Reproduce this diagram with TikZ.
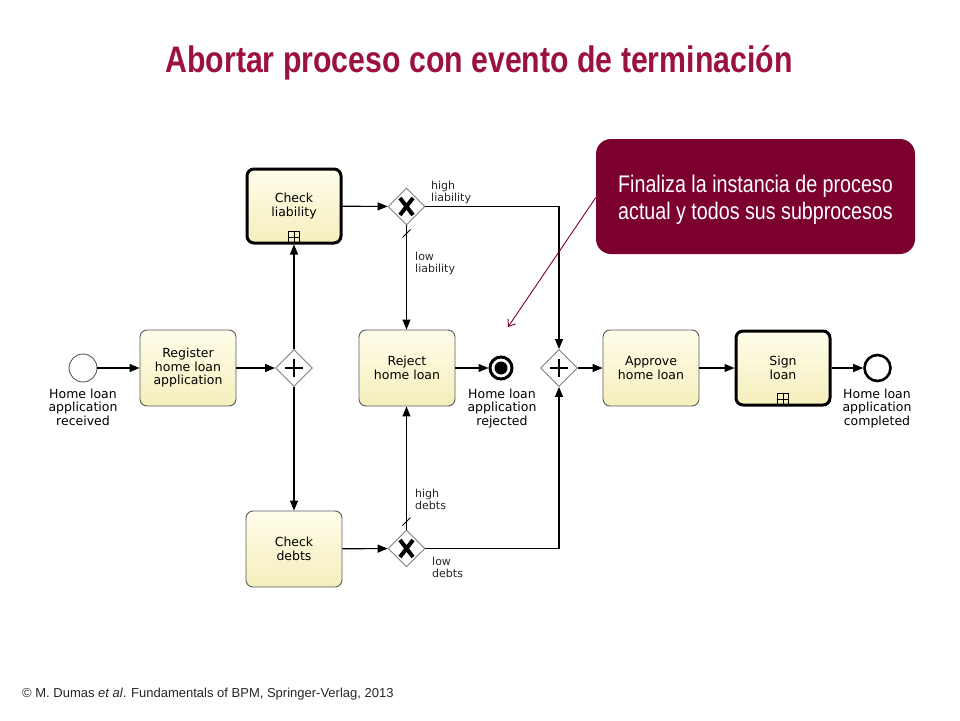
\documentclass[tikz,border=0pt]{standalone}
\usepackage{fontspec}
\usetikzlibrary{arrows.meta,shapes.geometric}
\setmainfont{Liberation Sans}
\newfontfamily\bpmFont{DejaVu Sans}
\newfontfamily\bpmNarrow[FakeStretch=0.82]{Liberation Sans}
\definecolor{bpmTitleRed}{RGB}{155,18,62}
\definecolor{bpmNoteRed}{RGB}{124,0,46}
\definecolor{bpmTaskTop}{RGB}{255,253,234}
\definecolor{bpmTaskBottom}{RGB}{245,238,188}
\definecolor{bpmLine}{RGB}{90,90,90}
\newcommand{\bpmXorMark}[1]{\draw[line width=4pt] ([shift={(-6.5,-8.5)}]#1.center) -- ([shift={(6.5,8.5)}]#1.center) ([shift={(6.5,-8.5)}]#1.center) -- ([shift={(-6.5,8.5)}]#1.center);}
\newcommand{\bpmAndMark}[1]{\draw[line width=2.6pt] ([xshift=-9pt]#1.center) -- ([xshift=9pt]#1.center) ([yshift=-9pt]#1.center) -- ([yshift=9pt]#1.center);}
\newcommand{\bpmSubMark}[1]{\node[draw, line width=0.8pt, minimum size=11pt, inner sep=0pt, anchor=south] (#1m) at ([yshift=1.5pt]#1.south) {};
\draw[line width=0.8pt] (#1m.north) -- (#1m.south) (#1m.west) -- (#1m.east);}
\newcommand{\bpmDefaultMark}[1]{\draw[line width=0.8pt] ([shift={(-4,4)}]#1) -- ([shift={(4,-4)}]#1);}

\begin{document}
\begin{tikzpicture}[x=1pt,y=-1pt,
  taskbox/.style={rectangle, rounded corners=7pt, minimum width=96pt, minimum height=76pt, draw=bpmLine, line width=0.9pt, top color=bpmTaskTop, bottom color=bpmTaskBottom, font=\bpmFont\fontsize{12.5}{13.5}\selectfont, align=center, inner sep=0pt},
  subbox/.style={taskbox, draw=black, line width=3pt, minimum width=94pt, minimum height=74pt},
  gatebox/.style={diamond, draw=gray, line width=0.9pt, fill=white, minimum width=37pt, minimum height=37pt, inner sep=0pt},
  startev/.style={circle, draw=bpmLine, line width=0.9pt, fill=white, minimum size=28pt, inner sep=0pt},
  endev/.style={circle, draw=black, line width=2.6pt, fill=white, minimum size=26pt, inner sep=0pt},
  termev/.style={circle, draw=black, line width=3pt, fill=white, minimum size=22pt, inner sep=0pt},
  evlabel/.style={font=\bpmFont\fontsize{12.5}{13.5}\selectfont, align=center, inner sep=0pt, anchor=north},
  gwlabel/.style={font=\bpmFont\fontsize{11}{12.3}\selectfont, align=left, inner sep=0pt, anchor=north west, text=black!85},
  flow/.style={-{Triangle[length=10pt,width=8pt]}, line width=1.1pt}]
\useasboundingbox (0,0) rectangle (960,720);
\node[anchor=base, inner sep=0pt, text=bpmTitleRed, font=\bpmNarrow\bfseries\fontsize{36.9}{40}\selectfont] (title) at (479,72) {Abortar proceso con evento de terminación};
\node[startev] (evReceived) at (83,368) {};
\node[evlabel] (lbReceived) at (83,388.5) {Home loan\\application\\received};
\node[taskbox] (tRegister) at (188,368) {Register\\home loan\\application};
\node[gatebox] (gSplit) at (294,368) {};
\node[subbox] (tLiability) at (294,206) {Check\\liability};
\node[taskbox] (tDebts) at (294,549) {Check\\debts};
\node[gatebox] (gLiability) at (406.5,206.5) {};
\node[gatebox] (gDebts) at (406.5,548.5) {};
\node[taskbox] (tReject) at (407,368) {Reject\\home loan};
\node[termev] (evRejected) at (501,368) {};
\node[circle, fill=black, minimum size=13pt, inner sep=0pt] (evRejectedDot) at (evRejected.center) {};
\node[evlabel] (lbRejected) at (502,388.5) {Home loan\\application\\rejected};
\node[gatebox] (gJoin) at (559,368) {};
\node[taskbox] (tApprove) at (651,368) {Approve\\home loan};
\node[subbox] (tSign) at (783,368) {Sign\\loan};
\node[endev] (evCompleted) at (877.5,368) {};
\node[evlabel] (lbCompleted) at (877,388.5) {Home loan\\application\\completed};
\bpmXorMark{gLiability}
\bpmXorMark{gDebts}
\bpmAndMark{gSplit}
\bpmAndMark{gJoin}
\bpmSubMark{tLiability}
\bpmSubMark{tSign}
\node[gwlabel] (lbHighLiab) at (431,180.5) {high\\liability};
\node[gwlabel] (lbLowLiab) at (415,252) {low\\liability};
\node[gwlabel] (lbHighDebts) at (415,489) {high\\debts};
\node[gwlabel] (lbLowDebts) at (432,557) {low\\debts};
\draw[flow] (evReceived) -- (tRegister);
\draw[flow] (tRegister) -- (gSplit);
\draw[flow] (gSplit) -- (tLiability);
\draw[flow] (gSplit) -- (tDebts);
\draw[flow] (tLiability) -- (gLiability);
\draw[flow] (tDebts) -- (gDebts);
\draw[flow] (gLiability.east) -| (gJoin.north);
\draw[flow] (gLiability.south) -- (gLiability.south |- tReject.north);
\draw[flow] (gDebts.north) -- (gDebts.north |- tReject.south);
\draw[flow] (gDebts.east) -| (gJoin.south);
\draw[flow] (tReject) -- (evRejected);
\draw[flow] (gJoin) -- (tApprove);
\draw[flow] (tApprove) -- (tSign);
\draw[flow] (tSign) -- (evCompleted);
\coordinate (dLiability) at ([yshift=-8pt]gLiability.south);
\coordinate (dDebts) at ([yshift=8pt]gDebts.north);
\bpmDefaultMark{dLiability}
\bpmDefaultMark{dDebts}
\node[rectangle, rounded corners=15pt, fill=bpmNoteRed, minimum width=319pt, minimum height=115pt, inner sep=0pt] (note) at (755.5,196.5) {};
\node[text=white, align=center, inner sep=0pt, font=\bpmNarrow\fontsize{24}{27}\selectfont] (noteText) at ([yshift=-3pt]note.center) {Finaliza la instancia de proceso\\actual y todos sus subprocesos};
\coordinate (noteTip) at (508,327);
\draw[bpmNoteRed, line width=0.9pt, -{Straight Barb[length=6pt,width=9pt]}] ([yshift=-1pt]note.west) -- (noteTip);
\node[anchor=base west, inner sep=0pt, font=\fontsize{13}{15}\selectfont, text=black!85] (credit) at (22,697) {\textcopyright{} M. Dumas \textit{et al}. Fundamentals of BPM, Springer-Verlag, 2013};
\end{tikzpicture}
\end{document}
